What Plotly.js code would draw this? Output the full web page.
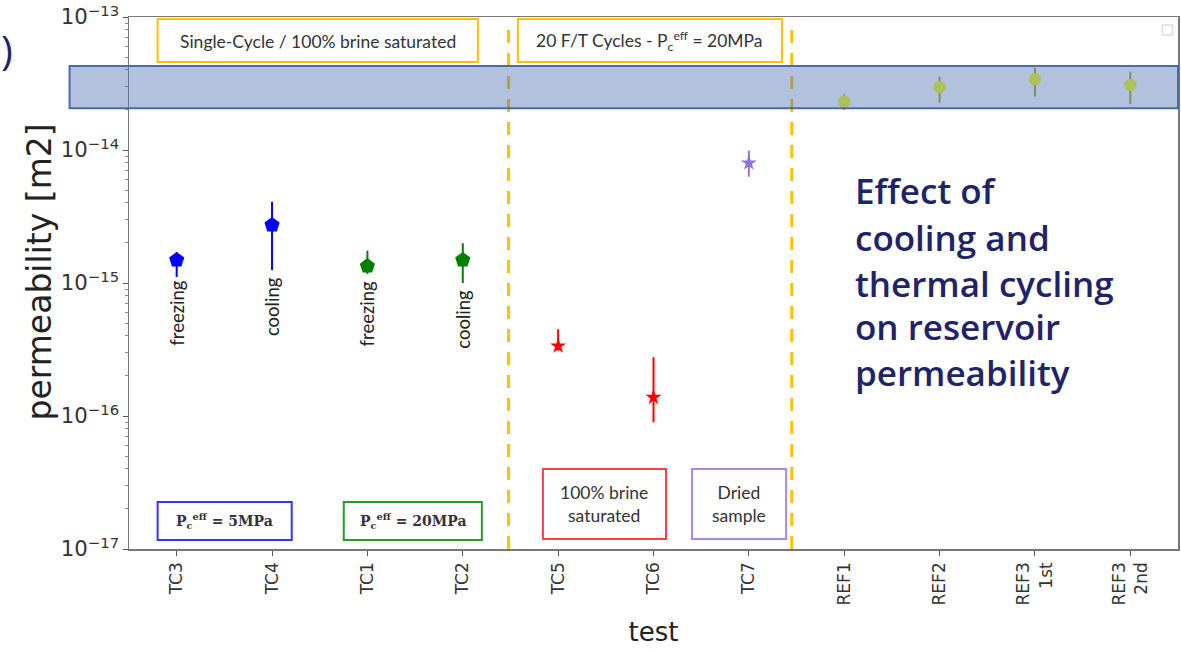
<!DOCTYPE html>
<html>
<head>
<meta charset="utf-8">
<script src="https://cdn.plot.ly/plotly-3.0.1.min.js"></script>
<style>html,body{margin:0;padding:0;background:#fff;}#chart{width:1181px;height:652px;}</style>
</head>
<body>
<div id="chart"></div>
<script>
// ---- data ----
const categories = ['TC3','TC4','TC1','TC2','TC5','TC6','TC7','REF1','REF2','REF3<br>1st','REF3<br>2nd'];
const permeability = [1.49e-15, 2.73e-15, 1.34e-15, 1.49e-15, 3.36e-16, 1.38e-16, 7.98e-15, 2.31e-14, 2.96e-14, 3.40e-14, 3.08e-14];
const permUpper    = [1.70e-15, 4.08e-15, 1.75e-15, 1.99e-15, 4.49e-16, 2.76e-16, 9.90e-15, 2.62e-14, 3.56e-14, 4.16e-14, 3.88e-14];
const permLower    = [1.11e-15, 1.25e-15, 1.17e-15, 1.00e-15, 3.10e-16, 8.97e-17, 6.30e-15, 2.00e-14, 2.27e-14, 2.52e-14, 2.21e-14];
const reservoirBand = [2.06e-14, 4.28e-14];   // shaded reference permeability range
const separators = [3.48, 6.45];               // dashed group separators (category index)
const pointNotes = ['freezing','cooling','freezing','cooling'];

const groups = [
  {idx:[0,1], color:'#0000ff', ecolor:'#0000ff', symbol:'pentagon', size:16},
  {idx:[2,3], color:'#008000', ecolor:'#008000', symbol:'pentagon', size:16},
  {idx:[4,5], color:'#ff0000', ecolor:'#ff0000', symbol:'star', size:12},
  {idx:[6],   color:'#9370db', ecolor:'#9370db', symbol:'star', size:12},
  {idx:[7,8,9,10], color:'#f4ff10', ecolor:'#a4a418', symbol:'octagon', size:13}
];

const traces = groups.map(g => ({
  type:'scatter', mode:'markers',
  x: g.idx.map(i => categories[i]),
  y: g.idx.map(i => permeability[i]),
  marker:{color:g.color, symbol:g.symbol, size:g.size, line:{width:0}},
  error_y:{type:'data', symmetric:false,
    array: g.idx.map(i => permUpper[i]-permeability[i]),
    arrayminus: g.idx.map(i => permeability[i]-permLower[i]),
    color:g.ecolor, thickness:2, width:0},
  showlegend:false, hoverinfo:'x+y'
}));

// ---- pixel helpers for decoration placement ----
const L=129.4, W=1048.2, T=17, H=532;
const PX = X => (X-L)/W;
const PY = Y => (T+H-Y)/H;

const shapes = [];
const annotations = [];

separators.forEach(s => shapes.push({type:'line', xref:'x', yref:'paper', x0:s, x1:s, y0:0, y1:PY(21),
  line:{color:'#ffc000', width:3, dash:'13px,10px'}, layer:'above'}));

shapes.push({type:'rect', xref:'paper', yref:'y', x0:PX(70), x1:1.0,
  y0:reservoirBand[0], y1:reservoirBand[1],
  fillcolor:'rgba(84,118,182,0.45)', line:{color:'#4a6aaa', width:2}, layer:'above'});

function box(x0,x1,y0,y1,color){
  shapes.push({type:'rect', xref:'paper', yref:'paper', x0:PX(x0), x1:PX(x1), y0:PY(y1), y1:PY(y0),
    line:{color:color, width:2}, fillcolor:'rgba(255,255,255,0)', layer:'above'});
}
function label(text,x,y,size,family,color,extra){
  annotations.push(Object.assign({text:text, xref:'paper', yref:'paper', x:PX(x), y:PY(y),
    showarrow:false, font:{family:family, size:size, color:color}, xanchor:'center', yanchor:'middle'}, extra||{}));
}

box(158,478,19,62,'#ffc000');
label('Single-Cycle / 100% brine saturated',318,41,17.5,'Lato, sans-serif','#333');
box(518,782,19,62,'#ffc000');
label('20 F/T Cycles - P<sub>c</sub><sup>eff</sup> = 20MPa',650,41,17.5,'Lato, sans-serif','#333');

box(158,292,502,540,'#3333ff');
label('<b>P<sub>c</sub><sup>eff</sup> = 5MPa</b>',225,521,14,'DejaVu Serif, serif','#333');
box(344,482,502,540,'#2a9a2a');
label('<b>P<sub>c</sub><sup>eff</sup> = 20MPa</b>',413,521,14,'DejaVu Serif, serif','#333');

box(543,666,469,539,'#ff4040');
label('100% brine<br>saturated',604.5,504,17.5,'Lato, sans-serif','#333');
box(692,786,469,539,'#a48ae6');
label('Dried<br>sample',739,504,17.5,'Lato, sans-serif','#333');

// small empty legend marker
shapes.push({type:'rect', xref:'paper', yref:'paper', x0:PX(1162), x1:PX(1172), y0:PY(35), y1:PY(25),
  line:{color:'#dddddd', width:1.5}, layer:'above'});

// rotated notes under points
const noteY = [313,307,313,319];
pointNotes.forEach((t,i) => annotations.push({text:t, xref:'x', yref:'paper', x:categories[i], y:PY(noteY[i]),
  showarrow:false, textangle:-90, font:{family:'Lato, sans-serif', size:18.5, color:'#222'}, xanchor:'center', yanchor:'middle'}));

// big side text
const sideLines = ['Effect of','cooling and','thermal cycling','on reservoir','permeability'];
const sideY = [191,237,283,327,372];
sideLines.forEach((t,i) => annotations.push({text:t, xref:'paper', yref:'paper', x:PX(853), y:PY(sideY[i]),
  showarrow:false, xanchor:'left', yanchor:'middle', font:{family:'Open Sans, sans-serif', size:35, color:'#1f2468', weight:600}}));

annotations.push({text:')', xref:'paper', yref:'paper', x:PX(7), y:PY(50), showarrow:false,
  xanchor:'center', yanchor:'middle', font:{family:'Open Sans, sans-serif', size:40, color:'#1f2468'}});

// y-axis title placed as rotated text
annotations.push({text:'permeability [m2]', xref:'paper', yref:'paper', x:PX(39), y:PY(272), showarrow:false,
  textangle:-90, xanchor:'center', yanchor:'middle', font:{family:'DejaVu Sans, sans-serif', size:33, color:'#222'}});

const layout = {
  width:1181, height:652,
  margin:{l:129.4, r:3.4, t:17, b:103},
  paper_bgcolor:'#fff', plot_bgcolor:'#fff',
  font:{family:'DejaVu Sans, sans-serif', color:'#333'},
  xaxis:{type:'category', categoryorder:'array', categoryarray:categories, range:[-0.5,10.5],
    tickangle:-90, ticks:'outside', ticklen:5, tickcolor:'#555', showgrid:false, zeroline:false,
    showline:true, linecolor:'#777', linewidth:1.5, mirror:true,
    tickfont:{size:17, color:'#333'},
    title:{text:'test', font:{size:26, color:'#222'}, standoff:18}},
  yaxis:{type:'log', range:[-17,-13], dtick:1, exponentformat:'power', showexponent:'all',
    ticks:'outside', ticklen:5, tickcolor:'#555', showgrid:false, zeroline:false,
    showline:true, linecolor:'#777', linewidth:1.5, mirror:true,
    minor:{ticks:'outside', ticklen:3, tickcolor:'#888', dtick:'D1', showgrid:false},
    tickfont:{size:17, color:'#333'}},
  shapes:shapes, annotations:annotations, showlegend:false
};

Plotly.newPlot('chart', traces, layout, {staticPlot:true, displayModeBar:false});
</script>
</body>
</html>
